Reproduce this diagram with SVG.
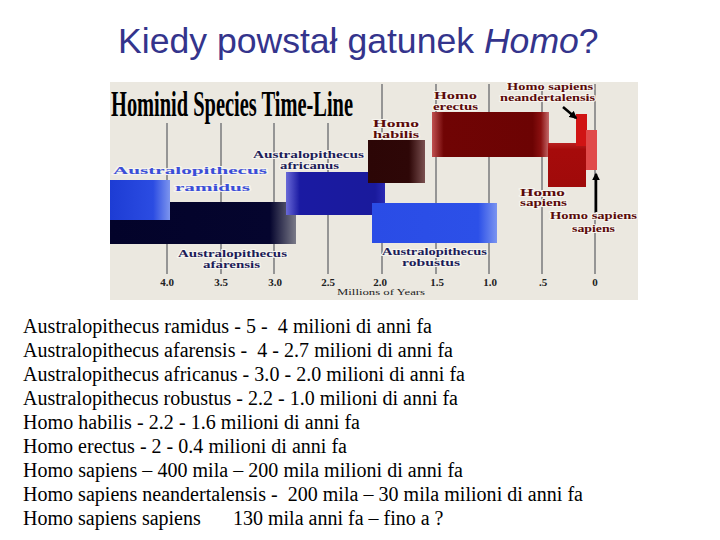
<svg xmlns="http://www.w3.org/2000/svg" width="720" height="540" viewBox="0 0 720 540">
<defs>
<style>
.title{font-family:"Liberation Sans",Arial,sans-serif;font-size:35.6px;fill:#34348c}
.body{font-family:"Liberation Serif","Times New Roman",serif;font-size:20px;fill:#000;white-space:pre}
.lbl{font-family:"Liberation Serif","Times New Roman",serif;font-weight:bold;font-size:10.5px;stroke:#f6f4ee;stroke-width:2px;paint-order:stroke;stroke-linejoin:round}
.navy{fill:#1c1c58}
.maroon{fill:#5a0a0a}
.tick{font-family:"Liberation Serif","Times New Roman",serif;font-weight:bold;font-size:11px;fill:#222;text-anchor:middle}
.grid{stroke:#959595;stroke-width:2}
.arrow{stroke:#000;stroke-width:2.5;fill:none;marker-end:url(#ah)}
</style>
<marker id="ah" viewBox="0 0 10 10" refX="8" refY="5" markerWidth="3.2" markerHeight="3.2" orient="auto"><path d="M0,0 L10,5 L0,10 z" fill="#000"/></marker>
<linearGradient id="gRam" x1="0" x2="1" y1="0" y2="0"><stop offset="0" stop-color="#1d3cd4"/><stop offset="0.72" stop-color="#2b4ce2"/><stop offset="1" stop-color="#7d95ee"/></linearGradient>
<linearGradient id="gAfa" x1="0" x2="1" y1="0" y2="0"><stop offset="0" stop-color="#03032a"/><stop offset="0.86" stop-color="#05052e"/><stop offset="1" stop-color="#7a7a88"/></linearGradient>
<linearGradient id="gAfr" x1="0" x2="1" y1="0" y2="0"><stop offset="0" stop-color="#6a6ad8"/><stop offset="0.14" stop-color="#1a1aa2"/><stop offset="0.9" stop-color="#1a1a9c"/><stop offset="1" stop-color="#2a2ab4"/></linearGradient>
<linearGradient id="gRob" x1="0" x2="1" y1="0" y2="0"><stop offset="0" stop-color="#2a4ce6"/><stop offset="0.85" stop-color="#2c50e8"/><stop offset="1" stop-color="#7a94f0"/></linearGradient>
<linearGradient id="gHab" x1="0" x2="1" y1="0" y2="0"><stop offset="0" stop-color="#2c0606"/><stop offset="0.72" stop-color="#2e0707"/><stop offset="1" stop-color="#7a5050"/></linearGradient>
<linearGradient id="gEre" x1="0" x2="1" y1="0" y2="0"><stop offset="0" stop-color="#c05050"/><stop offset="0.1" stop-color="#700404"/><stop offset="0.86" stop-color="#6c0303"/><stop offset="0.93" stop-color="#8a1010"/><stop offset="1" stop-color="#c46a6a"/></linearGradient>
<linearGradient id="gSap" x1="0" x2="0" y1="0" y2="1"><stop offset="0" stop-color="#b82020"/><stop offset="0.15" stop-color="#a60b0b"/><stop offset="1" stop-color="#a00a0a"/></linearGradient>
</defs>
<rect width="720" height="540" fill="#fff"/>
<text class="title" x="118" y="53">Kiedy powstał gatunek <tspan font-style="italic">Homo</tspan>?</text>

<g id="chart">
<rect x="110" y="82" width="528" height="218" fill="#ebe8e0"/>
<text x="111" y="116" font-family="'Liberation Serif',serif" font-weight="bold" font-size="36" fill="#000" textLength="242" lengthAdjust="spacingAndGlyphs">Hominid Species Time-Line</text>
<g id="grid">
<line class="grid" x1="167" y1="123" x2="167" y2="274"/>
<line class="grid" x1="221" y1="123" x2="221" y2="274"/>
<line class="grid" x1="274" y1="123" x2="274" y2="274"/>
<line class="grid" x1="328" y1="123" x2="328" y2="274"/>
<line class="grid" x1="382" y1="84" x2="382" y2="274"/>
<line class="grid" x1="436" y1="84" x2="436" y2="274"/>
<line class="grid" x1="489" y1="84" x2="489" y2="274"/>
<line class="grid" x1="542" y1="84" x2="542" y2="274"/>
<line class="grid" x1="595" y1="84" x2="595" y2="274"/>
</g>
<g id="axis">
<text class="tick" x="167" y="286">4.0</text>
<text class="tick" x="221" y="286">3.5</text>
<text class="tick" x="275" y="286">3.0</text>
<text class="tick" x="328" y="286">2.5</text>
<text class="tick" x="380" y="286">2.0</text>
<text class="tick" x="437" y="286">1.5</text>
<text class="tick" x="490" y="286">1.0</text>
<text class="tick" x="543" y="286">.5</text>
<text class="tick" x="595" y="286">0</text>
<text x="337" y="295" font-family="'Liberation Serif',serif" font-size="8" fill="#222" textLength="88" lengthAdjust="spacingAndGlyphs">Millions of Years</text>
</g>

<g id="afarensis">
<rect x="110" y="202" width="186" height="42" fill="url(#gAfa)"/>
<text class="lbl navy" x="178" y="257" textLength="109" lengthAdjust="spacingAndGlyphs">Australopithecus</text>
<text class="lbl navy" x="203" y="268" textLength="57" lengthAdjust="spacingAndGlyphs">afarensis</text>
</g>
<g id="ramidus">
<rect x="110" y="180" width="60" height="40" fill="url(#gRam)"/>
<text class="lbl" x="113" y="174" font-size="13" fill="#3a4ed8" textLength="154" lengthAdjust="spacingAndGlyphs">Australopithecus</text>
<text class="lbl" x="175" y="191" font-size="13" fill="#3a4ed8" textLength="75" lengthAdjust="spacingAndGlyphs">ramidus</text>
</g>
<g id="africanus">
<rect x="286" y="172" width="99" height="43" fill="url(#gAfr)"/>
<text class="lbl navy" x="253" y="158" textLength="111" lengthAdjust="spacingAndGlyphs">Australopithecus</text>
<text class="lbl navy" x="280" y="169" textLength="59" lengthAdjust="spacingAndGlyphs">africanus</text>
</g>
<g id="robustus">
<rect x="372" y="203" width="125" height="40" fill="url(#gRob)"/>
<text class="lbl navy" x="382" y="255" textLength="105" lengthAdjust="spacingAndGlyphs">Australopithecus</text>
<text class="lbl navy" x="402" y="266" textLength="58" lengthAdjust="spacingAndGlyphs">robustus</text>
</g>
<g id="habilis">
<rect x="368" y="140" width="57" height="43" fill="url(#gHab)"/>
<text class="lbl maroon" x="373" y="127" textLength="46" lengthAdjust="spacingAndGlyphs">Homo</text>
<text class="lbl maroon" x="373" y="138" textLength="46" lengthAdjust="spacingAndGlyphs">habilis</text>
</g>
<g id="erectus">
<rect x="432" y="112" width="117" height="45" fill="url(#gEre)"/>
<text class="lbl maroon" x="434" y="99" textLength="43" lengthAdjust="spacingAndGlyphs">Homo</text>
<text class="lbl maroon" x="433" y="110" textLength="45" lengthAdjust="spacingAndGlyphs">erectus</text>
</g>
<g id="sapiens">
<rect x="548" y="143" width="38" height="44" fill="url(#gSap)"/>
<text class="lbl maroon" x="520" y="196" textLength="45" lengthAdjust="spacingAndGlyphs">Homo</text>
<text class="lbl maroon" x="520" y="206" textLength="47" lengthAdjust="spacingAndGlyphs">sapiens</text>
</g>
<g id="neandertalensis">
<rect x="576" y="114" width="11" height="32" fill="#d01414"/>
<text class="lbl maroon" x="507" y="90" textLength="86" lengthAdjust="spacingAndGlyphs">Homo sapiens</text>
<text class="lbl maroon" x="500" y="101" textLength="95" lengthAdjust="spacingAndGlyphs">neandertalensis</text>
</g>
<g id="sapiens-sapiens">
<rect x="586" y="130" width="11" height="40" fill="#e04a4a"/>
<text class="lbl maroon" x="550" y="219" textLength="87" lengthAdjust="spacingAndGlyphs">Homo sapiens</text>
<text class="lbl maroon" x="572" y="232" textLength="43" lengthAdjust="spacingAndGlyphs">sapiens</text>
</g>
<g id="connectors">
<line class="arrow" x1="563" y1="107" x2="576" y2="118"/>
<line class="arrow" x1="596" y1="212" x2="596" y2="174"/>
</g>
</g>

<g id="list">
<text class="body" x="23" y="333" textLength="409" lengthAdjust="spacing">Australopithecus ramidus - 5 -  4 milioni di anni fa</text>
<text class="body" x="23" y="357" textLength="430" lengthAdjust="spacing">Australopithecus afarensis -  4 - 2.7 milioni di anni fa</text>
<text class="body" x="23" y="381" textLength="442" lengthAdjust="spacing">Australopithecus africanus - 3.0 - 2.0 milioni di anni fa</text>
<text class="body" x="23" y="405" textLength="435" lengthAdjust="spacing">Australopithecus robustus - 2.2 - 1.0 milioni di anni fa</text>
<text class="body" x="23" y="429" textLength="337" lengthAdjust="spacing">Homo habilis - 2.2 - 1.6 milioni di anni fa</text>
<text class="body" x="23" y="453" textLength="324" lengthAdjust="spacing">Homo erectus - 2 - 0.4 milioni di anni fa</text>
<text class="body" x="23" y="477" textLength="440" lengthAdjust="spacing">Homo sapiens – 400 mila – 200 mila milioni di anni fa</text>
<text class="body" x="23" y="501" textLength="560" lengthAdjust="spacing">Homo sapiens neandertalensis -  200 mila – 30 mila milioni di anni fa</text>
<text class="body" y="525"><tspan x="23">Homo sapiens sapiens</tspan><tspan x="233">130 mila anni fa – fino a ?</tspan></text>
</g>
</svg>
